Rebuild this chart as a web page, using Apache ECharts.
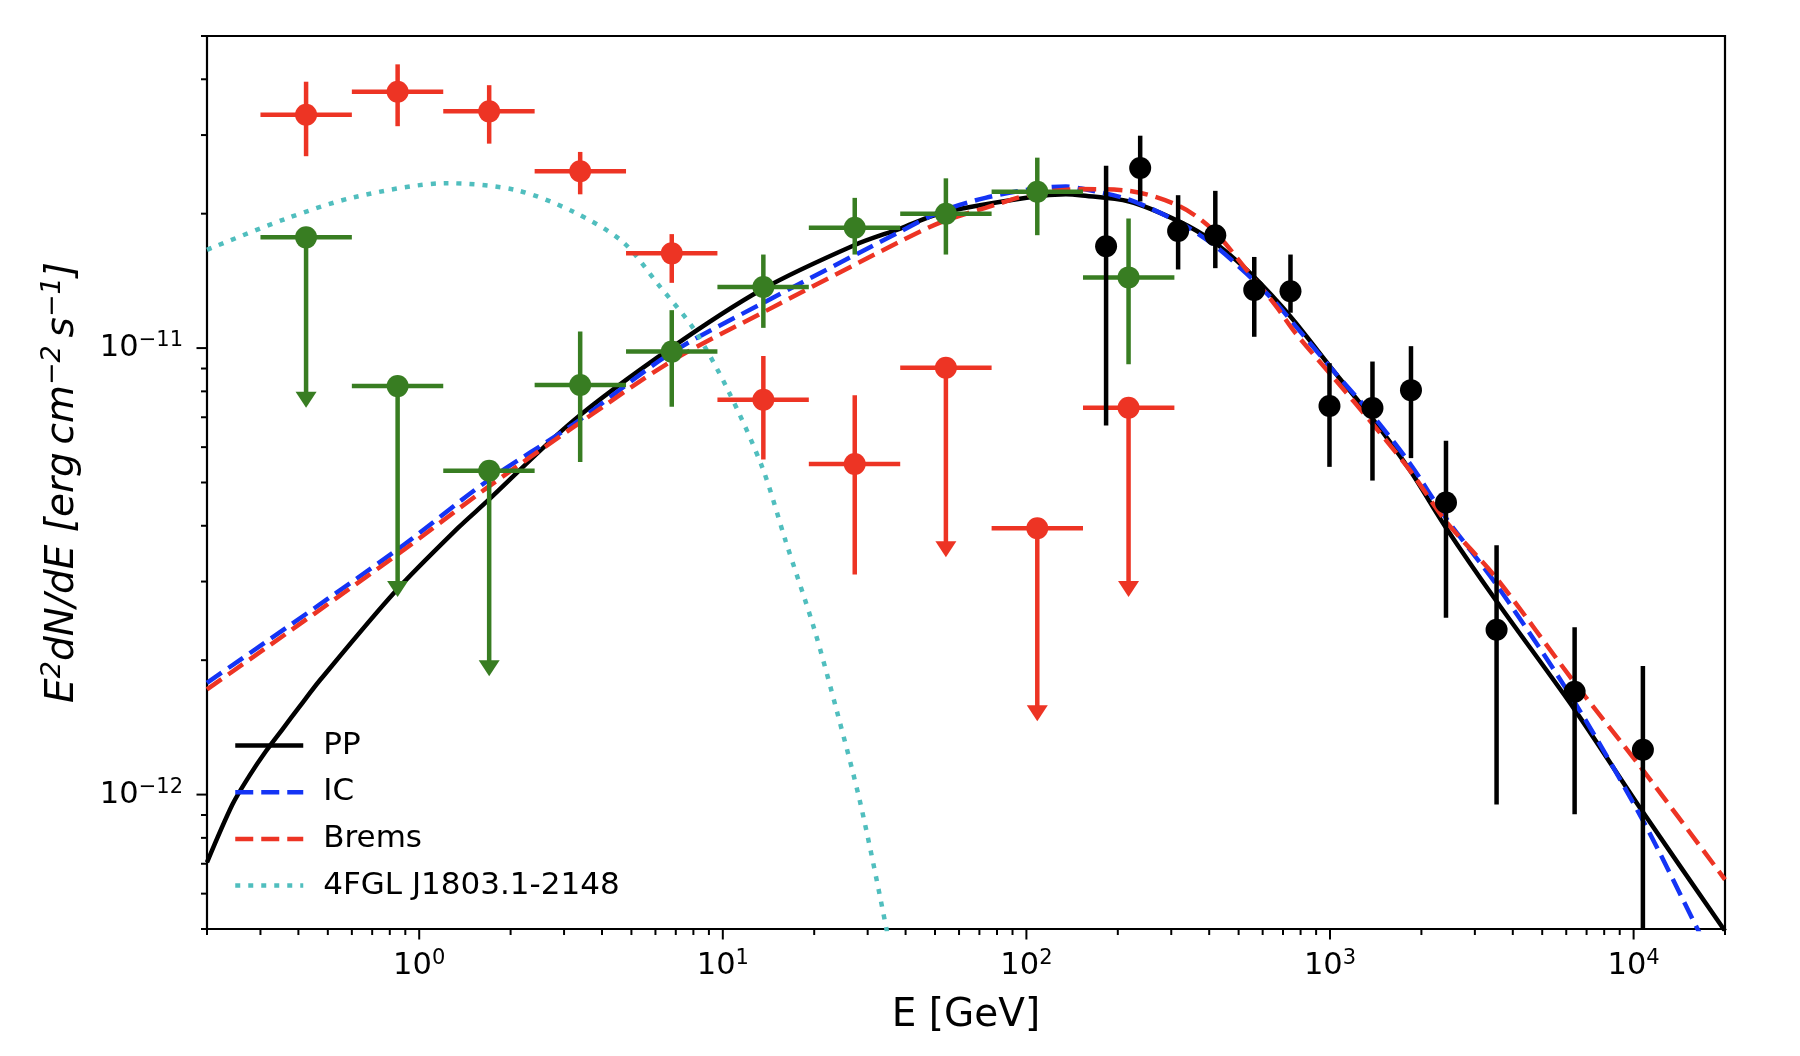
<!DOCTYPE html>
<html>
<head>
<meta charset="utf-8">
<script src="https://cdn.jsdelivr.net/npm/echarts@6/dist/echarts.min.js"></script>
<style>
html, body { margin: 0; padding: 0; background: #fff; }
#chart { width: 1800px; height: 1056px; }
</style>
</head>
<body>
<div id="chart"></div>
<script>
// energy bins [GeV] shared by the red and green points
var binLo  = [0.3, 0.6, 1.2, 2.4, 4.8, 9.6, 19.2, 38.4, 76.8, 153.6];
var binHi  = [0.6, 1.2, 2.4, 4.8, 9.6, 19.2, 38.4, 76.8, 153.6, 307.2];
var binMid = [0.424, 0.849, 1.70, 3.39, 6.79, 13.6, 27.2, 54.3, 108.6, 217];

// red points (ul = 1 -> upper limit, lo = arrow tip)
var redF  = [3.33e-11, 3.75e-11, 3.39e-11, 2.49e-11, 1.63e-11, 7.66e-12, 5.50e-12, 9.04e-12, 3.95e-12, 7.35e-12];
var redLo = [2.69e-11, 3.14e-11, 2.87e-11, 2.21e-11, 1.40e-11, 5.63e-12, 3.11e-12, 3.40e-12, 1.46e-12, 2.77e-12];
var redHi = [3.95e-11, 4.32e-11, 3.88e-11, 2.75e-11, 1.80e-11, 9.60e-12, 7.84e-12, 0, 0, 0];
var redUL = [0, 0, 0, 0, 0, 0, 0, 1, 1, 1];

// green points
var greenF  = [1.77e-11, 8.22e-12, 5.31e-12, 8.27e-12, 9.82e-12, 1.37e-11, 1.86e-11, 2.00e-11, 2.24e-11, 1.44e-11];
var greenLo = [7.35e-12, 2.77e-12, 1.84e-12, 5.56e-12, 7.39e-12, 1.11e-11, 1.62e-11, 1.62e-11, 1.79e-11, 9.20e-12];
var greenHi = [0, 0, 0, 1.09e-11, 1.216e-11, 1.62e-11, 2.17e-11, 2.40e-11, 2.67e-11, 1.95e-11];
var greenUL = [1, 1, 1, 0, 0, 0, 0, 0, 0, 0];

// black points (no energy bins drawn)
var blackE  = [183, 237, 316, 419, 563, 741, 996, 1380, 1848, 2410, 3537, 6393, 10730];
var blackF  = [1.69e-11, 2.53e-11, 1.83e-11, 1.79e-11, 1.35e-11, 1.34e-11, 7.42e-12, 7.34e-12, 8.05e-12, 4.51e-12, 2.34e-12, 1.70e-12, 1.26e-12];
var blackLo = [6.71e-12, 2.13e-11, 1.50e-11, 1.51e-11, 1.06e-11, 1.20e-11, 5.42e-12, 5.05e-12, 5.67e-12, 2.49e-12, 9.5e-13, 9.04e-13, 3e-13];
var blackHi = [2.56e-11, 2.99e-11, 2.20e-11, 2.25e-11, 1.60e-11, 1.62e-11, 9.25e-12, 9.33e-12, 1.01e-11, 6.2e-12, 3.62e-12, 2.37e-12, 1.94e-12];

// model curves [E, E^2 dN/dE]
var ppCurve = [[0.2, 7.05e-13], [0.2425, 9.5e-13], [0.2754, 1.10e-12], [0.3126, 1.25e-12], [0.3544, 1.40e-12],
  [0.4024, 1.57e-12], [0.473, 1.81e-12], [0.834, 2.85e-12], [1.345, 3.96e-12], [1.675, 4.54e-12], [3.22, 6.88e-12],
  [6.74, 1.0e-11], [13.5, 1.355e-11], [27.1, 1.70e-11], [38.2, 1.85e-11], [52.9, 2.01e-11], [104, 2.18e-11],
  [135, 2.21e-11], [150, 2.20e-11], [218, 2.13e-11], [319, 1.92e-11], [411, 1.735e-11], [530, 1.50e-11],
  [665, 1.28e-11], [770, 1.14e-11], [1043, 8.78e-12], [1380, 6.95e-12], [1838, 5.31e-12], [2410, 3.96e-12],
  [3537, 2.71e-12], [6393, 1.55e-12], [10730, 9.14e-13], [20000, 4.95e-13]];
var icCurve = [[0.2, 1.78e-12], [0.834, 3.51e-12], [1.675, 5.04e-12], [3.22, 6.75e-12], [6.74, 9.74e-12],
  [13.5, 1.26e-11], [38.2, 1.82e-11], [52.9, 2.03e-11], [73.3, 2.17e-11], [104, 2.27e-11], [135, 2.30e-11],
  [150, 2.28e-11], [218, 2.15e-11], [319, 1.91e-11], [411, 1.71e-11], [530, 1.47e-11], [665, 1.26e-11],
  [770, 1.12e-11], [1043, 8.78e-12], [1380, 7.07e-12], [1838, 5.5e-12], [2410, 4.16e-12], [3537, 2.95e-12],
  [6393, 1.61e-12], [10730, 8.75e-13], [16240, 5.0e-13], [20000, 3.8e-13]];
var bremsCurve = [[0.2, 1.72e-12], [0.834, 3.42e-12], [1.675, 4.87e-12], [3.22, 6.65e-12], [6.74, 9.33e-12],
  [13.5, 1.20e-11], [38.2, 1.73e-11], [52.9, 1.92e-11], [73.3, 2.06e-11], [104, 2.21e-11], [150, 2.27e-11],
  [218, 2.25e-11], [319, 2.08e-11], [411, 1.84e-11], [530, 1.50e-11], [665, 1.24e-11], [770, 1.08e-11],
  [1043, 8.48e-12], [1380, 6.77e-12], [1838, 5.31e-12], [2410, 4.09e-12], [3537, 3.05e-12], [6393, 1.78e-12],
  [10730, 1.135e-12], [20000, 6.45e-13]];
var fglCurve = [[0.2, 1.66e-11], [0.365, 1.95e-11], [0.616, 2.18e-11], [1.234, 2.34e-11], [2.08, 2.26e-11],
  [3.22, 2.02e-11], [4.68, 1.73e-11], [6.17, 1.38e-11], [8.05, 1.10e-11], [10.4, 8.05e-12], [13.5, 5.40e-12],
  [16.1, 3.70e-12], [20.0, 2.35e-12], [23.8, 1.53e-12], [28.4, 9.55e-13], [34.6, 5.0e-13], [38, 3.5e-13]];

var legendNames = ['PP', 'IC', 'Brems', '4FGL J1803.1-2148'];

// axis ranges and log tick marks
var xMin = 0.2, xMax = 20000, yMin = 5e-13, yMax = 5e-11;
var xMajor = [1, 10, 100, 1000, 10000];
var yMajor = [1e-12, 1e-11];
var mantissa = [2, 3, 4, 5, 6, 7, 8, 9];
var xDecades = [0.1, 1, 10, 100, 1000, 10000];
var yDecades = [1e-13, 1e-12, 1e-11];

var RED = '#ED3424', GREEN = '#387D22', BLUE = '#1434F5', TEAL = '#50BEBE';
var FONT = 'DejaVu Sans';

function inRange(v, a, b) { return v >= a * 0.9999 && v <= b * 1.0001; }

var xTicks = [], yTicks = [];
xMajor.forEach(function (v) { xTicks.push([v, yMin, 10.5]); });
yMajor.forEach(function (v) { yTicks.push([xMin, v, 10.5]); });
xDecades.forEach(function (d) {
    mantissa.forEach(function (m) { if (inRange(m * d, xMin, xMax)) xTicks.push([m * d, yMin, 6]); });
});
yDecades.forEach(function (d) {
    mantissa.forEach(function (m) { if (inRange(m * d, yMin, yMax)) yTicks.push([xMin, m * d, 6]); });
});

function powLabel(v) {
    var e = Math.log10(v), p = Math.round(e);
    if (Math.abs(e - p) > 1e-6) return '';
    return '{b|10}{s|' + (p < 0 ? '\u2212' + (-p) : p) + '}';
}
var labelRich = {
    b: { fontSize: 30.5, fontFamily: FONT, color: '#000', lineHeight: 36 },
    s: { fontSize: 21, fontFamily: FONT, color: '#000', lineHeight: 18.4, verticalAlign: 'top' }
};

function xTickItem(params, api) {
    var p = api.coord([api.value(0), api.value(1)]);
    return { type: 'line', shape: { x1: p[0], y1: p[1], x2: p[0], y2: p[1] + api.value(2) },
             style: { stroke: '#000', lineWidth: 2 } };
}
function yTickItem(params, api) {
    var p = api.coord([api.value(0), api.value(1)]);
    return { type: 'line', shape: { x1: p[0], y1: p[1], x2: p[0] - api.value(2), y2: p[1] },
             style: { stroke: '#000', lineWidth: 2 } };
}

// [E, F, Elo, Ehi, Flo, Fhi]
function errItem(params, api) {
    var x = api.value(0), y = api.value(1);
    var c = api.coord([x, y]);
    var l = api.coord([api.value(2), y]), r = api.coord([api.value(3), y]);
    var lo = api.coord([x, api.value(4)]), hi = api.coord([x, api.value(5)]);
    var cs = params.coordSys;
    var style = { stroke: api.visual('color'), lineWidth: 4.5 };
    var kids = [{ type: 'line', shape: { x1: c[0], y1: Math.min(lo[1], cs.y + cs.height), x2: c[0], y2: hi[1] }, style: style }];
    if (r[0] - l[0] > 1) kids.push({ type: 'line', shape: { x1: l[0], y1: c[1], x2: r[0], y2: c[1] }, style: style });
    return { type: 'group', children: kids };
}
// [E, F, Elo, Ehi, Ftip]
function ulItem(params, api) {
    var x = api.value(0), y = api.value(1);
    var c = api.coord([x, y]);
    var l = api.coord([api.value(2), y]), r = api.coord([api.value(3), y]);
    var tip = api.coord([x, api.value(4)]);
    var col = api.visual('color'), hw = 10.5, hl = 16;
    return { type: 'group', children: [
        { type: 'line', shape: { x1: l[0], y1: c[1], x2: r[0], y2: c[1] }, style: { stroke: col, lineWidth: 4.5 } },
        { type: 'line', shape: { x1: c[0], y1: c[1], x2: c[0], y2: tip[1] - hl + 1 }, style: { stroke: col, lineWidth: 4.5 } },
        { type: 'polygon', shape: { points: [[c[0] - hw, tip[1] - hl], [c[0] + hw, tip[1] - hl], [c[0], tip[1]]] }, style: { fill: col } }
    ] };
}

function binned(F, Lo, Hi, UL, wantUL) {
    var out = [];
    for (var i = 0; i < F.length; i++) {
        if (!!UL[i] !== wantUL) continue;
        if (wantUL) out.push([binMid[i], F[i], binLo[i], binHi[i], Lo[i]]);
        else out.push([binMid[i], F[i], binLo[i], binHi[i], Lo[i], Hi[i]]);
    }
    return out;
}
function points(X, F) { return X.map(function (x, i) { return [x, F[i]]; }); }

var blackErr = blackE.map(function (e, i) { return [e, blackF[i], e, e, blackLo[i], blackHi[i]]; });

function curve(name, data, color, type) {
    return { name: name, type: 'line', data: data, symbol: 'none', smooth: 0.3, z: 3,
             lineStyle: { color: color, width: 4.5, type: type }, itemStyle: { color: color },
             emphasis: { disabled: true }, silent: true };
}
function custom(render, data, color, z) {
    return { type: 'custom', renderItem: render, data: data, clip: false, silent: true, z: z,
             itemStyle: { color: color }, encode: { x: 0, y: 1 } };
}
function dots(data, color) {
    return { type: 'scatter', data: data, symbol: 'circle', symbolSize: 22, z: 6, silent: true,
             itemStyle: { color: color, opacity: 1 } };
}

var option = {
    animation: false,
    backgroundColor: '#fff',
    grid: { left: 207, right: 75, top: 36, bottom: 127, show: true, borderColor: '#000', borderWidth: 2.2,
            backgroundColor: 'transparent', outerBoundsMode: 'none' },
    legend: {
        data: legendNames, orient: 'vertical', left: 233, top: 730, padding: 0,
        itemWidth: 68, itemHeight: 14, itemGap: 15.7,
        lineStyle: { width: 4.5 },
        itemStyle: { opacity: 0 },
        textStyle: { fontSize: 31, fontFamily: FONT, color: '#000', lineHeight: 31, padding: [0, 0, 0, 15] }
    },
    xAxis: {
        type: 'log', logBase: 10, min: xMin, max: xMax,
        axisLine: { show: false }, axisTick: { show: false }, splitLine: { show: false },
        axisLabel: { formatter: powLabel, rich: labelRich, margin: 19 },
        name: 'E [GeV]', nameLocation: 'middle', nameGap: 67, nameMoveOverlap: false,
        nameTextStyle: { fontSize: 39, fontFamily: FONT, color: '#000' }
    },
    yAxis: {
        type: 'log', logBase: 10, min: yMin, max: yMax,
        axisLine: { show: false }, axisTick: { show: false }, splitLine: { show: false },
        axisLabel: { formatter: powLabel, rich: labelRich, margin: 24 },
        name: '{i|E}{s|2}{i|dN/dE [erg\u2009cm}{s|\u22122}{i|\u2009s}{s|\u22121}{i|]}',
        nameLocation: 'middle', nameGap: 120, nameMoveOverlap: false,
        nameTextStyle: { fontSize: 39, fontFamily: FONT, color: '#000',
            rich: {
                i: { fontSize: 39, fontFamily: FONT, fontStyle: 'italic', color: '#000', lineHeight: 48 },
                s: { fontSize: 27, fontFamily: FONT, fontStyle: 'italic', color: '#000', lineHeight: 26, verticalAlign: 'top' }
            } }
    },
    series: [
        custom(xTickItem, xTicks, '#000', 1),
        custom(yTickItem, yTicks, '#000', 1),
        curve(legendNames[0], ppCurve, '#000', 'solid'),
        curve(legendNames[1], icCurve, BLUE, [18, 8]),
        curve(legendNames[2], bremsCurve, RED, [18, 8]),
        curve(legendNames[3], fglCurve, TEAL, [5, 8]),
        custom(errItem, binned(redF, redLo, redHi, redUL, false), RED, 5),
        custom(ulItem, binned(redF, redLo, redHi, redUL, true), RED, 5),
        custom(errItem, binned(greenF, greenLo, greenHi, greenUL, false), GREEN, 5),
        custom(ulItem, binned(greenF, greenLo, greenHi, greenUL, true), GREEN, 5),
        custom(errItem, blackErr, '#000', 5),
        dots(points(binMid, redF), RED),
        dots(points(binMid, greenF), GREEN),
        dots(points(blackE, blackF), '#000')
    ]
};

var chart = echarts.init(document.getElementById('chart'));
chart.setOption(option);
</script>
</body>
</html>
